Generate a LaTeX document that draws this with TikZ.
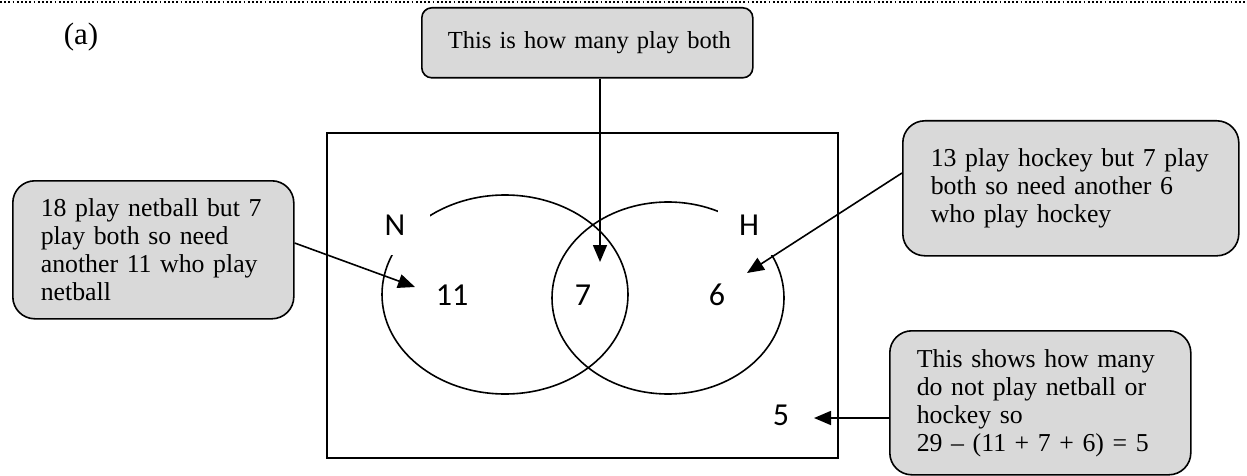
\documentclass[tikz,border=0pt]{standalone}
\usepackage{fontspec}
\setmainfont{Liberation Serif}
\newfontfamily\calfont{Carlito}
\usetikzlibrary{arrows.meta}
\definecolor{calgray}{HTML}{D9D9D9}
\begin{document}
\begin{tikzpicture}[x=1pt,y=-1pt,
  callout/.style={draw, line width=1.6pt, fill=calgray, rounded corners=22pt,
    anchor=north west, align=left, inner ysep=0pt,
    font=\fontsize{25.8}{28}\selectfont},
  setline/.style={line width=1.6pt},
  arr/.style={line width=1.6pt, -{Triangle[length=17pt,width=14pt]}},
  lbl/.style={font=\calfont\fontsize{32}{34}\selectfont, inner sep=0pt},
  setlbl/.style={lbl, fill=white}]
\useasboundingbox (0,0) rectangle (1247,476);
% top dotted rule
\draw[line width=1.8pt, dash pattern=on 1.8pt off 2.4pt] (0,2) -- (1247,2);
\node[font=\fontsize{31}{34}\selectfont] (tag) at (81,37) {(a)};
% universal set
\draw[setline] (327,133) rectangle (838,458);
\draw[setline] (505,294.5) ellipse [x radius=123pt, y radius=99.5pt];
\draw[setline] (668,298) ellipse [x radius=116pt, y radius=96pt];
\node[setlbl, minimum width=70pt, minimum height=60pt] (N) at (395,225) {N};
\node[setlbl, minimum width=62pt, minimum height=60pt] (H) at (749,225) {H};
\node[lbl] (n11) at (452,295) {11};
\node[lbl] (n7) at (583,295) {7};
\node[lbl] (n6) at (717,295) {6};
\node[lbl] (n5) at (781,415) {5};
% callouts
\node[callout, rounded corners=10pt, inner xsep=26pt, text width=279pt, minimum height=70pt,
  font=\fontsize{24.5}{28}\selectfont] (top) at (421,7)
  {\mbox{This is how many play both}\par\vspace{3.4pt}};
\node[callout, inner xsep=28pt, text width=225pt, minimum height=138pt] (left) at (12,180)
  {\mbox{18 play netball but 7}\\\mbox{play both so need}\\\mbox{another 11 who play}\\\mbox{netball}\par\vspace{-10.4pt}};
\node[callout, inner xsep=28pt, text width=280pt, minimum height=135pt] (right) at (902,120)
  {\mbox{13 play hockey but 7 play}\\\mbox{both so need another 6}\\\mbox{who play hockey}\par\vspace{9pt}};
\node[callout, inner xsep=27pt, text width=247pt, minimum height=144pt] (bot) at (889,330)
  {\mbox{This shows how many}\\\mbox{do not play netball or}\\\mbox{hockey so}\\\mbox{29 -- (11 + 7 + 6) = 5}\par\vspace{13pt}};
% connectors
\coordinate (t7) at (600,262);
\coordinate (t11) at (415,287);
\coordinate (t6) at (747,273);
\coordinate (t5) at (814,418);
\draw[arr] (top.south -| t7) -- (t7);
\draw[arr] (left.east |- 0,243) -- (t11);
\draw[arr] (right.west |- 0,173) -- (t6);
\draw[arr] (bot.west |- t5) -- (t5);
\end{tikzpicture}
\end{document}
